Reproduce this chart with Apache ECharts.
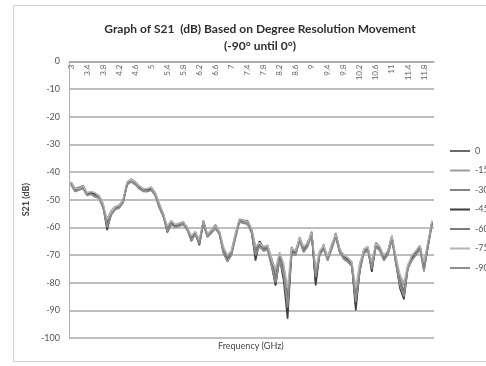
<!DOCTYPE html>
<html>
<head>
<meta charset="utf-8">
<script src="https://cdn.jsdelivr.net/npm/echarts@6/dist/echarts.min.js"></script>
<style>html,body{margin:0;padding:0;background:#fff;}#c{width:486px;height:366px;}</style>
</head>
<body>
<div id="c"></div>
<script>
var categories = ['3','3.1','3.2','3.3','3.4','3.5','3.6','3.7','3.8','3.9','4','4.1','4.2','4.3','4.4','4.5','4.6','4.7','4.8','4.9',
'5','5.1','5.2','5.3','5.4','5.5','5.6','5.7','5.8','5.9','6','6.1','6.2','6.3','6.4','6.5','6.6','6.7','6.8','6.9',
'7','7.1','7.2','7.3','7.4','7.5','7.6','7.7','7.8','7.9','8','8.1','8.2','8.3','8.4','8.5','8.6','8.7','8.8','8.9',
'9','9.1','9.2','9.3','9.4','9.5','9.6','9.7','9.8','9.9','10','10.1','10.2','10.3','10.4','10.5','10.6','10.7','10.8','10.9',
'11','11.1','11.2','11.3','11.4','11.5','11.6','11.7','11.8','11.9','12'];

var seriesNames = ['0','-15','-30','-45','-60','-75','-90'];
var seriesColors = ['#6a6a6a','#9c9c9c','#858585','#3c3c3c','#7a7a7a','#b4b4b4','#8e8e8e'];

var s0 = [-44,-46.5,-46,-45,-48,-47.5,-48,-49,-52,-59,-55,-53,-52.5,-50.5,-44,-43,-44,-45.5,-46.5,-46.5,
-46,-48,-52,-55.5,-61,-58.5,-59.5,-59,-58.5,-60.5,
-64.5,-62,-65.5,-58,-63,-61.5,-59.7,-62,-68,-71.5,
-69.5,-63,-57.3,-57.9,-58,-61,-68,-66,-68,-67.6,
-73,-79,-70.5,-76,-90,-68,-69.4,-64,-68,-66,
-62,-79,-69,-67,-71,-67,-62.7,-68.5,-70.5,-71.5,
-73,-88,-75,-68.5,-67.5,-75,-66,-67.5,-71.5,-69,
-63.5,-72,-80,-84,-74,-71,-69,-67,-75,-66.5,-58];

var s15 = [-44.5,-47,-46,-45.5,-48.5,-47,-48.5,-49.5,-53,-57,-54,-52.5,-52,-50,-44.5,-43.5,-44.5,-46,-47,-47,
-46.5,-48.5,-53,-56,-60,-58,-60,-59.5,-59,-61,
-63.5,-63,-65,-59,-63.5,-62,-60.5,-62.5,-69,-70.5,
-68.5,-62.5,-58,-58.5,-59,-62,-70,-65,-67,-66.5,
-71,-76,-69.5,-74,-84,-70,-68,-65,-69,-65,
-63,-76,-70,-66,-72,-66,-63.5,-69,-71.5,-72.5,
-74,-84,-73,-69,-68,-73,-67,-68.5,-70.5,-70,
-64.5,-71,-78,-81,-75,-70,-70,-68,-73,-65.5,-59];

var s30 = [-43.5,-46,-45.5,-45,-47.5,-47.5,-48,-48.5,-51.5,-60,-55.5,-53.5,-53,-51,-44,-42.5,-43.5,-45,-46,-46,
-45.5,-47.5,-51.5,-55,-62,-59,-59,-58.5,-58,-60,
-65,-61.5,-66,-57.5,-62.5,-61,-59,-61.5,-67.5,-72,
-70,-63.5,-57,-57.5,-57.5,-60.5,-67,-66.5,-68.5,-68,
-74,-81,-71,-78,-88,-67,-70,-63.5,-67.5,-66.5,
-61.5,-80,-68.5,-67.5,-70.5,-67.5,-62,-68,-70,-71,
-72.5,-86,-76,-68,-67,-76,-65.5,-67,-72,-68.5,
-63,-73,-81,-85,-73.5,-71.5,-68.5,-66.5,-75.5,-67,-58.5];

var s45 = [-44,-46.5,-46,-45,-48,-47.5,-48,-49,-52,-61,-55,-53,-52.5,-50.5,-44,-43,-44,-45.5,-46.5,-46.5,
-46,-48,-52,-55.5,-61.5,-58.5,-59.5,-59,-58.5,-60.5,
-64,-62,-66.5,-58,-63,-61.5,-59.7,-62,-69,-71,
-69,-63,-57.5,-57.5,-58,-61,-72,-65,-67.5,-67,
-73,-81,-71,-79,-93,-69,-69,-64,-68.5,-66,
-62,-81,-69.5,-67,-71,-67,-62.5,-68.5,-70.5,-71.5,
-73.5,-90,-75.5,-68.5,-67.5,-76,-66,-67.5,-71.5,-69,
-63.5,-72.5,-82,-86,-74,-71,-69,-67,-75,-66.5,-58];

var s60 = [-44,-47,-46.5,-45.5,-48,-48,-48.5,-49,-52.5,-58,-55,-53,-52,-50.5,-44.5,-43,-44,-46,-46.5,-47,
-46.5,-48,-52.5,-56,-60.5,-58.5,-60,-59,-58.5,-61,
-64,-62.5,-65,-58.5,-63,-62,-60,-62,-68.5,-71,
-69,-62.5,-57.5,-58,-58.5,-61.5,-69,-66,-67.5,-67,
-72,-78,-70,-75,-86,-68.5,-69,-64.5,-68,-66,
-62.5,-77,-69.5,-67,-71.5,-66.5,-63,-69,-71,-72,
-73.5,-86,-74,-68.5,-68,-74,-66.5,-68,-71,-69.5,
-64,-71.5,-79,-83,-74.5,-70.5,-69.5,-67.5,-74,-66,-58.5];

var s75 = [-43.5,-46,-46,-45,-47.5,-47,-47.5,-48.5,-51.5,-57,-54.5,-52.5,-52,-50,-43.5,-42.5,-43.5,-45,-46,-46,
-45.5,-47.5,-51.5,-55,-59.5,-57.5,-59,-58.5,-58,-60,
-63,-61.5,-64.5,-58,-62.5,-61,-59.5,-61.5,-67,-70,
-68.5,-62,-57,-57.5,-58,-60.5,-67,-65.5,-67,-66.5,
-71.5,-75,-69,-73,-82,-67.5,-68.5,-63.5,-67,-65.5,
-62,-75,-68.5,-66.5,-70.5,-66,-62.5,-68,-70,-71,
-72.5,-82,-73,-68,-67,-72.5,-66,-67,-70,-68.5,
-63,-70.5,-77,-80,-73.5,-70,-68.5,-66.5,-72.5,-65.5,-57.5];

var s90 = [-44.5,-47,-46.5,-46,-48.5,-48,-49,-49.5,-53,-60,-55.5,-53.5,-53,-51,-44.5,-43.5,-44.5,-46,-47,-47,
-46.5,-48.5,-52.5,-56,-61.5,-59,-60,-59.5,-59,-61,
-65,-62.5,-66,-58.5,-63.5,-62,-60,-62.5,-69.5,-72.5,
-70,-64,-58,-58.5,-58.5,-61.5,-70,-67,-68.5,-68,
-74,-80,-72,-77,-89,-70,-70,-65,-69,-67,
-63,-78,-70,-68,-72,-68,-63.5,-69,-71.5,-72.5,
-74,-87,-76,-69.5,-68.5,-75,-67,-68.5,-72,-70,
-64.5,-73,-81,-85,-75,-72,-70,-68,-76,-67,-59];

var yTicks = [0,-10,-20,-30,-40,-50,-60,-70,-80,-90,-100];

var allData = [s0, s15, s30, s45, s60, s75, s90];
var FONT = 'Lato, "Open Sans", sans-serif';

var chart = echarts.init(document.getElementById('c'), null, {renderer: 'canvas'});
chart.setOption({
  animation: false,
  backgroundColor: '#ffffff',
  title: {
    text: 'Graph of S21  (dB) Based on Degree Resolution Movement\n(-90° until 0°)',
    left: 255, top: 16, textAlign: 'center',
    textStyle: {fontFamily: FONT, fontSize: 12, fontWeight: 'bold', color: '#2e2e2e', lineHeight: 17}
  },
  graphic: [
    {type: 'rect', shape: {x: 13.5, y: 5.5, width: 480, height: 356}, style: {fill: 'none', stroke: '#d0d0d0', lineWidth: 1}, silent: true},
    {type: 'text', left: 218, top: 342, style: {text: 'Frequency (GHz)', font: '9px ' + FONT, fill: '#444'}}
  ],
  legend: {
    orient: 'vertical', left: 450, top: 145, padding: 0,
    icon: 'rect', itemWidth: 20, itemHeight: 2, itemGap: 7.5,
    textStyle: {fontFamily: FONT, fontSize: 9, color: '#555', lineHeight: 12, width: 30, overflow: 'none'},
    data: seriesNames
  },
  grid: {left: 69, right: 52, top: 61.5, bottom: 28, containLabel: false},
  xAxis: {
    type: 'category', position: 'top', data: categories, boundaryGap: true,
    axisLine: {show: true, lineStyle: {color: '#a8a8a8', width: 1.5}},
    axisTick: {show: false},
    axisLabel: {inside: true, rotate: 90, interval: 3, fontFamily: FONT, fontSize: 8, color: '#666', margin: 3},
    splitLine: {show: false}
  },
  yAxis: {
    type: 'value', min: -100, max: 0, interval: 10,
    name: 'S21 (dB)', nameLocation: 'middle', nameGap: 31,
    nameTextStyle: {fontFamily: FONT, fontSize: 9, fontWeight: 'bold', color: '#444'},
    axisLine: {show: true, lineStyle: {color: '#b0b0b0', width: 1}},
    axisTick: {show: false},
    axisLabel: {fontFamily: FONT, fontSize: 9, color: '#555', margin: 9,
      formatter: function (v) { return yTicks.indexOf(v) >= 0 ? String(v) : ''; }},
    splitLine: {show: true, lineStyle: {color: '#a8a8a8', width: 1.5}}
  },
  series: seriesNames.map(function (n, k) {
    return {
      name: n, type: 'line', data: allData[k], symbol: 'none', smooth: false,
      lineStyle: {color: seriesColors[k], width: 1.6},
      itemStyle: {color: seriesColors[k]}
    };
  })
});
</script>
</body>
</html>
